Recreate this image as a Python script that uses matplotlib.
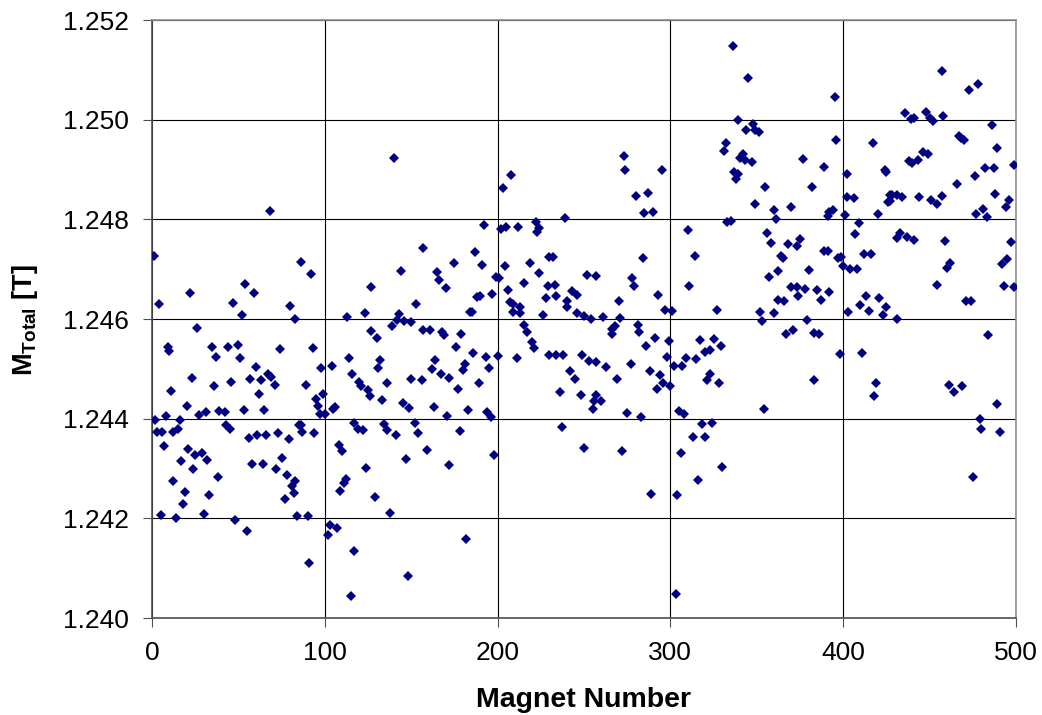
import numpy as np
import matplotlib
matplotlib.use('Agg')
import matplotlib.pyplot as plt

plt.rcParams['font.family'] = ['Liberation Sans', 'DejaVu Sans']
plt.rcParams['mathtext.fontset'] = 'custom'
plt.rcParams['mathtext.rm'] = 'Liberation Sans'
plt.rcParams['mathtext.bf'] = 'Liberation Sans:bold'

# Datos (numero de iman, M total en T)
# imanes 0 - 85
mag_a = [1, 4, 22, 26, 9, 10, 35, 37, 44, 50, 51, 47, 52, 54, 59, 74, 80, 83, 86,
         23, 11, 36, 46, 57, 60, 63, 62, 67, 69, 71,
         20, 8, 2, 16, 27, 31, 39, 42, 53, 65,
         3, 6, 12, 15, 7, 43, 45, 56, 61, 66, 73, 79, 85,
         21, 25, 29, 32, 17, 24, 38, 58, 64, 75, 72, 78, 83, 81, 82, 77,
         12, 19, 18, 33,
         5, 14, 30, 48, 55, 84, 68]
mt_a = [1.24727, 1.2463, 1.24652, 1.24581, 1.24543, 1.24536, 1.24543, 1.24524, 1.24544, 1.24548,
        1.24522, 1.24633, 1.24609, 1.2467, 1.24652, 1.2454, 1.24626, 1.246, 1.24714,
        1.24482, 1.24456, 1.24465, 1.24473, 1.2448, 1.24503, 1.24477, 1.2445, 1.24489, 1.24483, 1.24467,
        1.24425, 1.24406, 1.24397, 1.24398, 1.24408, 1.24413, 1.24415, 1.24414, 1.24417, 1.24418,
        1.24374, 1.24374, 1.24374, 1.24379, 1.24345, 1.24388, 1.2438, 1.24362, 1.24367, 1.24368,
        1.24372, 1.2436, 1.24387,
        1.24339, 1.24327, 1.24331, 1.24317, 1.24315, 1.243, 1.24283, 1.24309, 1.2431, 1.24322,
        1.243, 1.24286, 1.24275, 1.24264, 1.2425, 1.24239,
        1.24275, 1.24253, 1.24228, 1.24246,
        1.24207, 1.24201, 1.24209, 1.24196, 1.24174, 1.24204, 1.24816]

# imanes 86 - 172
mag_b = [140, 92, 93, 98, 104, 89, 95, 96, 99, 100, 97, 105, 106, 86, 87, 94, 108, 110, 112, 111,
         109, 90, 91, 103, 107, 102, 117, 115, 148, 124, 129, 138, 147, 159, 172,
         117, 119, 122, 134, 136, 141, 152, 154, 114, 116, 120, 121, 125, 126, 132, 131, 136, 133,
         145, 149, 150, 156, 163, 164, 162, 167, 172, 171,
         113, 123, 127, 130, 127, 139, 143, 142, 146, 150, 157, 161, 168, 169, 153, 144, 157, 165,
         166, 170]
mt_b = [1.24923, 1.2469, 1.24541, 1.24502, 1.24506, 1.24467, 1.2444, 1.24425, 1.2445, 1.24409,
        1.2441, 1.2442, 1.24423, 1.24387, 1.24374, 1.24372, 1.24347, 1.24335, 1.24278, 1.2427,
        1.24254, 1.24204, 1.2411, 1.24186, 1.2418, 1.24167, 1.24134, 1.24045, 1.24084, 1.24302,
        1.24242, 1.24211, 1.2432, 1.24338, 1.24307,
        1.24392, 1.2438, 1.24377, 1.24389, 1.24377, 1.24367, 1.24392, 1.24372, 1.24521, 1.24489,
        1.24474, 1.24465, 1.24457, 1.24445, 1.24518, 1.24501, 1.24471, 1.24437, 1.24432, 1.24421,
        1.24479, 1.24477, 1.24424, 1.24518, 1.24499, 1.24489, 1.24482, 1.24405,
        1.24605, 1.24613, 1.24575, 1.24561, 1.24665, 1.24585, 1.24611, 1.24598, 1.24595, 1.24593,
        1.24578, 1.24578, 1.24573, 1.24568, 1.2463, 1.24697, 1.24742, 1.24694, 1.24678, 1.24662]

# imanes 173 - 257
mag_c = [208, 203, 192, 202, 205, 212, 222, 224, 223, 239, 187, 175, 191, 204, 219, 224, 230, 232, 252, 257,
         199, 201, 215, 206, 197, 188, 190, 184, 185, 207, 209, 213, 209, 213, 229, 233, 228, 234, 226,
         240, 240, 243, 246, 246, 250, 254,
         179, 176, 186, 193, 200, 211, 181, 180, 195, 189, 177, 215, 217, 220, 221, 230, 234, 238,
         249, 253, 257, 242, 245, 236, 248, 257, 256, 255,
         183, 194, 196, 178, 237, 198, 250, 182]
mt_c = [1.24889, 1.24863, 1.24788, 1.2478, 1.24784, 1.24785, 1.24794, 1.24783, 1.24775, 1.24803,
        1.24735, 1.24713, 1.24708, 1.24707, 1.24713, 1.24692, 1.24725, 1.24725, 1.24689, 1.24687,
        1.24684, 1.24682, 1.24672, 1.24659, 1.24651, 1.24644, 1.24646, 1.24615, 1.24615, 1.24634,
        1.24631, 1.24625, 1.24615, 1.24612, 1.24666, 1.24668, 1.24642, 1.24646, 1.24609, 1.24636,
        1.24625, 1.24656, 1.24649, 1.24612, 1.24607, 1.24599,
        1.2457, 1.24543, 1.24532, 1.24524, 1.24526, 1.24521, 1.2451, 1.24497, 1.24502, 1.24471,
        1.2446, 1.24587, 1.24573, 1.24553, 1.24542, 1.24527, 1.24528, 1.24528, 1.24528, 1.24516,
        1.24514, 1.24496, 1.2448, 1.24453, 1.24447, 1.24448, 1.24435, 1.24419,
        1.24418, 1.24414, 1.24404, 1.24376, 1.24383, 1.24327, 1.24342, 1.24158]

# imanes 258 - 343
mag_d = [273, 274, 295, 280, 287, 285, 290, 332, 331, 342, 343, 340, 337, 339, 338, 333, 335, 310,
         314, 284, 336, 339,
         278, 279, 293, 270, 311, 297, 301, 327, 261, 271, 266, 268, 266, 281, 282, 291, 286, 299,
         298, 317, 325, 329, 320, 323, 309, 315,
         302, 307, 263, 277, 269, 288, 294, 296, 300, 292, 323, 321, 328, 260, 275, 283, 305, 308,
         318, 324, 313, 320, 272, 306, 330, 316, 289, 304, 303]
mt_d = [1.24928, 1.249, 1.249, 1.24847, 1.24852, 1.24812, 1.24814, 1.24954, 1.24938, 1.24932,
        1.2492, 1.24923, 1.24895, 1.24891, 1.24881, 1.24794, 1.24797, 1.24779, 1.24727, 1.24723,
        1.25148, 1.24999,
        1.24682, 1.24667, 1.24648, 1.24637, 1.24667, 1.24619, 1.24617, 1.24619, 1.24604, 1.24602,
        1.2458, 1.24585, 1.24569, 1.24587, 1.24573, 1.24562, 1.24546, 1.24556, 1.24524, 1.24557,
        1.2456, 1.24546, 1.24534, 1.24537, 1.24522, 1.2452,
        1.24505, 1.24506, 1.24503, 1.2451, 1.2448, 1.24496, 1.24487, 1.24471, 1.24465, 1.24459,
        1.2449, 1.24477, 1.24471, 1.24435, 1.24412, 1.24404, 1.24416, 1.24409, 1.2439, 1.24391,
        1.24364, 1.24364, 1.24336, 1.24331, 1.24303, 1.24277, 1.24248, 1.24246, 1.24048]

# imanes 344 - 427
mag_e = [345, 395, 348, 344, 349, 351, 347, 377, 389, 396, 417, 424, 425, 402, 355, 382, 349, 370,
         360, 361,
         392, 394, 391, 402, 406, 401, 420, 427, 426, 409, 407, 356, 358, 368, 373, 375, 364, 365,
         389, 391, 397, 399, 400, 404, 408, 412, 416,
         357, 362, 380, 370, 373, 378, 374, 385, 392, 387, 362, 366, 352, 360, 353, 379, 367, 371,
         383, 386, 413, 410, 415, 421, 425, 423, 403, 398, 411, 383, 419, 418, 354]
mt_e = [1.25083, 1.25046, 1.24992, 1.2498, 1.24979, 1.24976, 1.24915, 1.24922, 1.24905, 1.24959,
        1.24954, 1.249, 1.24895, 1.2489, 1.24864, 1.24865, 1.2483, 1.24825, 1.24818, 1.24801,
        1.24815, 1.24819, 1.24806, 1.24844, 1.24842, 1.24808, 1.24811, 1.24848, 1.24835, 1.24793,
        1.24771, 1.24773, 1.24753, 1.2475, 1.24746, 1.24761, 1.24726, 1.24723, 1.24736, 1.24736,
        1.24722, 1.24724, 1.24706, 1.247, 1.247, 1.2473, 1.2473,
        1.24685, 1.24697, 1.24699, 1.24665, 1.24664, 1.24661, 1.24647, 1.24659, 1.24654, 1.24639,
        1.24639, 1.24636, 1.24615, 1.24612, 1.24595, 1.24597, 1.24569, 1.24578, 1.24572, 1.24569,
        1.24646, 1.24629, 1.24617, 1.24642, 1.24625, 1.24608, 1.24614, 1.24529, 1.24531, 1.24478,
        1.24471, 1.24445, 1.2442]

# imanes 428 - 500
mag_f = [457, 473, 478, 436, 439, 441, 448, 450, 452, 458, 486, 467, 470, 468, 489, 446, 449, 443,
         438, 440, 499, 482, 487, 476, 466,
         428, 431, 434, 427, 444, 451, 454, 457, 488, 496, 494, 477, 481, 483, 431, 433, 437, 441,
         459, 497,
         462, 460, 495, 492, 454, 493, 499, 471, 474, 431, 484, 461, 464, 469, 489, 479, 480, 491, 475]
mt_f = [1.25098, 1.2506, 1.25072, 1.25013, 1.25001, 1.25004, 1.25016, 1.25003, 1.24998, 1.25008,
        1.2499, 1.24968, 1.24959, 1.24963, 1.24943, 1.24936, 1.24932, 1.2492, 1.24918, 1.24914,
        1.24909, 1.24903, 1.24903, 1.24886, 1.24871,
        1.24849, 1.24848, 1.24844, 1.24836, 1.24844, 1.24839, 1.24831, 1.24846, 1.24851, 1.24838,
        1.24824, 1.24811, 1.2482, 1.24805, 1.24762, 1.24772, 1.24764, 1.24758, 1.24756, 1.24755,
        1.24713, 1.24703, 1.24721, 1.2471, 1.24668, 1.24666, 1.24664, 1.24636, 1.24637, 1.24599,
        1.24567, 1.24468, 1.24453, 1.24465, 1.2443, 1.244, 1.2438, 1.24374, 1.24283]

magnet = np.array(mag_a + mag_b + mag_c + mag_d + mag_e + mag_f)
m_total = np.array(mt_a + mt_b + mt_c + mt_d + mt_e + mt_f)

x_ticks = [0, 100, 200, 300, 400, 500]
y_ticks = [1.240, 1.242, 1.244, 1.246, 1.248, 1.250, 1.252]

fig = plt.figure(figsize=(10.42, 7.15), dpi=100)
ax = fig.add_axes([152 / 1042, 1 - 618 / 715, 864 / 1042, 598 / 715])

ax.plot(magnet, m_total, linestyle='none', marker='D', markersize=4.6,
        color='#000080', markeredgewidth=0, zorder=3)

ax.set_xlim(0, 500)
ax.set_ylim(1.240, 1.252)
ax.set_xticks(x_ticks)
ax.set_yticks(y_ticks)
ax.set_yticklabels([f'{v:.3f}' for v in y_ticks])
ax.grid(True, color='black', linewidth=0.8)
ax.set_axisbelow(True)

for side in ['top', 'right']:
    ax.spines[side].set_color('#909090')
    ax.spines[side].set_linewidth(1.2)
for side in ['left', 'bottom']:
    ax.spines[side].set_color('#505050')
    ax.spines[side].set_linewidth(1.2)

ax.tick_params(axis='both', direction='out', length=6.5, width=0.8,
               color='#505050', labelsize=19, pad=10)

fig.text(583 / 1042, 1 - 700 / 715, 'Magnet Number', ha='center', va='center',
         fontsize=20.5, fontweight='bold')
fig.text(25 / 1042, 1 - 320 / 715, r'$\mathbf{M_{Total}}$ $\mathbf{[T]}$',
         ha='center', va='center', rotation=90, fontsize=19.5)

plt.savefig('out.png', dpi=100)
